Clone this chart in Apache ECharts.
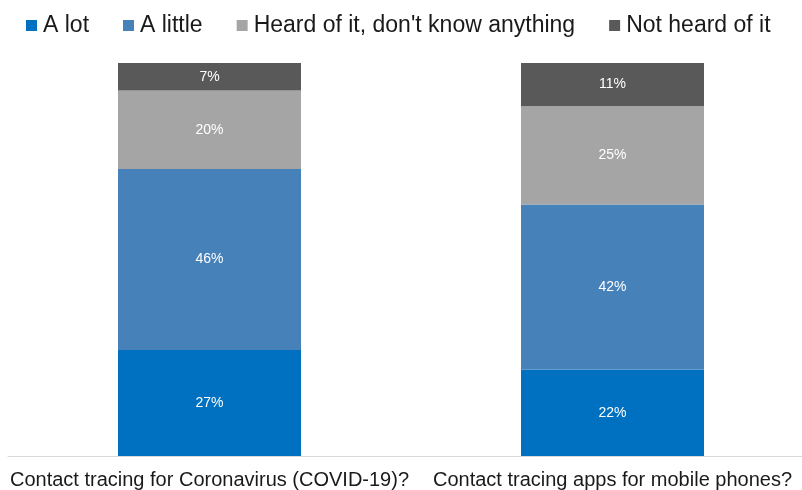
<!DOCTYPE html>
<html>
<head>
<meta charset="utf-8">
<script src="https://cdn.jsdelivr.net/npm/echarts@6/dist/echarts.min.js"></script>
<style>html,body{margin:0;padding:0;background:#fff;overflow:hidden}#c{width:816px;height:490px}</style>
</head>
<body>
<div id="c"></div>
<script>
const categories = ['Contact tracing for Coronavirus (COVID-19)?', 'Contact tracing apps for mobile phones?'];
const seriesNames = ['A lot', 'A little', "Heard of it, don't know anything", 'Not heard of it'];
const aLot = [27, 22];
const aLittle = [46, 42];
const heardOf = [20, 25];
const notHeard = [7, 11];
const colors = ['#0070C0', '#4681BA', '#A5A5A5', '#595959'];

const chart = echarts.init(document.getElementById('c'));
const dataSets = [aLot, aLittle, heardOf, notHeard];
chart.setOption({
  animation: false,
  textStyle: { fontFamily: 'Liberation Sans, Arial, sans-serif' },
  legend: {
    top: 9, left: 21,
    itemWidth: 11, itemHeight: 11, itemGap: 34,
    icon: 'rect',
    textStyle: { fontSize: 23, color: '#1a1a1a', padding: [0, 0, 0, 1] },
    data: seriesNames
  },
  grid: { left: 8, right: 2, top: 63, bottom: 33 },
  xAxis: {
    type: 'category', data: categories,
    axisLine: { lineStyle: { color: '#d9d9d9', width: 1 } },
    axisTick: { show: false },
    axisLabel: { fontSize: 20, color: '#1a1a1a', margin: 14, interval: 0 }
  },
  yAxis: { type: 'value', min: 0, max: 100, show: false, splitLine: { show: false } },
  series: dataSets.map((d, i) => ({
    name: seriesNames[i], type: 'bar', stack: 'total', data: d,
    barWidth: 183,
    itemStyle: { color: colors[i] },
    label: { show: true, position: 'inside', color: '#fff', fontSize: 14, formatter: '{c}%' }
  }))
});
</script>
</body>
</html>
